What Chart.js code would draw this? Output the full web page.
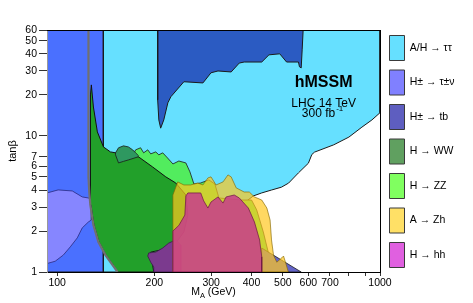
<!DOCTYPE html>
<html>
<head>
<meta charset="utf-8">
<script src="https://cdn.jsdelivr.net/npm/chart.js@4.4.0/dist/chart.umd.min.js"></script>
<style>
  html, body { margin: 0; padding: 0; background: #fff; }
</style>
</head>
<body>
<canvas id="my-chart" width="473" height="303"></canvas>
<script>
// axes
const xMin = 93, xMax = 1000;
const yMin = 1, yMax = 60;
const xTicks = [100, 200, 300, 400, 500, 600, 700, 800, 900, 1000];
const xTickLabels = ['100', '200', '300', '400', '500', '600', '700', '', '', '1000'];
const yTicks = [1, 2, 3, 4, 5, 6, 7, 10, 20, 30, 40, 50, 60];
const yTickLabels = ['1', '2', '3', '4', '5', '6', '7', '10', '20', '30', '40', '50', '60'];

// legend
const legendLabels = ['A/H → ττ', 'H± → τ±ν', 'H± → tb', 'H → WW', 'H → ZZ', 'A → Zh', 'H → hh'];
const legendColors = ['#66e0ff', '#8080ff', '#5e5ec0', '#60a060', '#80ff60', '#ffe066', '#e060e0'];

// regions, M_A (GeV) and tanb along each contour
const tautauMA   = [139, 139, 1000, 1000, 944, 879, 801, 719, 627, 615, 600, 559, 521, 495, 461, 430, 405, 385, 375, 370, 139];
const tautauTanb = [1, 60, 60, 14.8, 13.1, 11.6, 9.8, 8.6, 7.6, 7.3, 6.3, 5.35, 4.5, 4.2, 4.0, 3.81, 3.62, 3.3, 2.5, 1, 1];

const topMA   = [204.8, 204.8, 206.5, 209.2, 213.9, 220.2, 225, 246.9, 282.8, 299.6, 314.9, 345.9, 366.5, 379.6, 430.2, 452.9, 489.2, 513.6, 559, 563, 570, 574, 578];
const topTanb = [60, 18.4, 13.1, 11.4, 13.1, 17.5, 19.4, 25.0, 24.5, 29.1, 30.0, 29.5, 34.3, 34.9, 34.9, 39.4, 40.1, 34.9, 34.9, 32.2, 31.6, 42.9, 60];

const lepMA   = [93, 93, 139, 139];
const lepTanb = [1, 60, 60, 1];

const taunuMA   = [93, 100.7, 111.4, 119.6, 124.9, 127.6, 127.6, 124.9, 119.6, 115.4, 109.8, 104.4, 98.6, 93.8, 93];
const taunuTanb = [3.81, 4.01, 3.94, 3.56, 3.5, 3.38, 2.41, 2.33, 2.11, 1.78, 1.53, 1.33, 1.2, 1.16, 1.16];

const zzMA   = [175, 181.3, 185.3, 190.8, 194.9, 202, 206.5, 212.3, 219.8, 228.3, 238.2, 250.4, 257.8, 265.2, 278.4, 295, 308, 317, 372, 400, 415, 435, 453, 470, 200, 160, 165];
const zzTanb = [7.9, 8.18, 7.51, 7.9, 7.38, 7.63, 7.26, 7.51, 6.88, 6.22, 6.54, 6.33, 5.44, 4.43, 4.51, 4.75, 4.43, 3.5, 3.38, 3.38, 2.86, 1.97, 1.33, 1, 1, 3, 6];

const greenMA   = [127.6, 129.5, 133.2, 139.1, 146.2, 178.9, 197.6, 217, 233, 250.4, 254, 246.9, 233, 221.6, 209.2, 194.9, 199.1, 153.8, 148.8, 141.6, 134.7, 130, 127.2, 126.8, 126.8];
const greenTanb = [23.7, 16.3, 10.7, 8.3, 7.63, 7.0, 5.91, 5.0, 4.51, 3.68, 2.62, 1.97, 1.63, 1.53, 1.45, 1.4, 1, 1, 1.13, 1.33, 1.66, 2.21, 3.11, 6, 20];

const wwMA   = [151.6, 154.9, 160.5, 166.2, 171.3, 175, 178.9, 177.6, 166.2, 160.5, 154.9, 151.6];
const wwTanb = [7.51, 8.18, 8.45, 8.3, 7.9, 7.51, 7.13, 7.0, 6.66, 6.5, 6.33, 7.26];

const purpleMA   = [199.1, 199.1, 194.9, 190.8, 192.1, 202, 212.3, 221.6, 233, 241.6, 241.6];
const purpleTanb = [1, 1.09, 1.18, 1.31, 1.38, 1.4, 1.5, 1.63, 1.72, 1.58, 1];

const tbMA   = [430, 570, 430];
const tbTanb = [1.5, 1, 1];

const zhMA   = [228.3, 236.3, 246.9, 259.1, 272.6, 282.8, 293.0, 299.6, 310.6, 326.4, 338.1, 345.9, 358.6, 379.6, 393.7, 408.4, 430.2, 446.2, 456.6, 461.3, 467.9, 478.9, 496.2, 502.5, 509.6, 520, 228.3];
const zhTanb = [3.68, 4.59, 4.36, 4.36, 4.51, 4.36, 4.91, 5.0, 4.36, 4.59, 5.17, 5.0, 4.15, 3.87, 3.87, 3.56, 3.38, 2.95, 2.41, 1.72, 1.33, 1.18, 1.27, 1.31, 1.18, 1, 1];

const hhMA   = [228.3, 228.3, 238.2, 248.6, 250.4, 254, 278.4, 284.4, 293, 299.6, 314.9, 326.4, 333.6, 353.6, 366.5, 391, 408.4, 423.7, 430.2, 430.2];
const hhTanb = [1, 2.0, 2.2, 2.62, 3.62, 3.81, 3.81, 3.33, 2.95, 3.27, 3.56, 3.21, 3.56, 3.68, 3.5, 2.95, 2.33, 1.72, 1.29, 1];

const mhMA   = [125, 125, 125.8, 126.7, 129.5, 134.2, 141.1, 148.3, 153.8];
const mhTanb = [60, 5, 3.8, 3.11, 2.21, 1.66, 1.33, 1.13, 1];

const font = '"Liberation Sans", Arial, Helvetica, sans-serif';

function pts(xs, ys, close) {
  const p = xs.map((x, i) => ({x: x, y: ys[i]}));
  if (close) p.push(p[0]);
  return p;
}

function area(xs, ys, fillColor, lineColor, lineWidth) {
  return {
    data: pts(xs, ys, true),
    showLine: true,
    fill: 'shape',
    backgroundColor: fillColor,
    borderColor: lineColor,
    borderWidth: lineWidth,
    pointRadius: 0,
    pointHoverRadius: 0
  };
}

// bottom first
const layers = [
  area(tautauMA, tautauTanb, '#66e0ff', '#1b1b1b', 1),
  area(topMA, topTanb, '#2b5bc2', '#1b1b1b', 1),
  area(lepMA, lepTanb, '#4a70ff', '#1b1b1b', 1),
  area(taunuMA, taunuTanb, '#8686ff', '#2a2a80', 0.8),
  area(zzMA, zzTanb, '#52ec5e', '#1b1b1b', 0.8),
  area(greenMA, greenTanb, '#22a02a', '#111111', 1),
  area(wwMA, wwTanb, '#2e9860', '#1b1b1b', 0.8),
  area(purpleMA, purpleTanb, '#7b3a8e', '#3a1a4a', 0.8),
  area(tbMA, tbTanb, '#6464c8', '#1b1b1b', 0.8),
  area(zhMA, zhTanb, 'rgba(255,199,31,0.7)', 'rgba(130,100,0,0.8)', 0.8),
  area(hhMA, hhTanb, 'rgba(200,60,140,0.85)', 'rgba(110,20,70,0.9)', 0.8),
  {
    data: pts(mhMA, mhTanb, false),
    showLine: true,
    fill: false,
    borderColor: '#707070',
    borderWidth: 2.2,
    pointRadius: 0,
    pointHoverRadius: 0
  }
];
layers.forEach((d, i) => { d.order = layers.length - i; });

const textPlugin = {
  id: 'texts',
  afterDatasetsDraw(chart) {
    const {ctx, scales: {x, y}} = chart;
    ctx.save();
    ctx.fillStyle = '#000';
    ctx.textAlign = 'center';
    ctx.textBaseline = 'alphabetic';
    ctx.font = 'bold 16px ' + font;
    ctx.fillText('hMSSM', x.getPixelForValue(669), y.getPixelForValue(22.9));
    ctx.font = '12px ' + font;
    ctx.fillText('LHC 14 TeV', x.getPixelForValue(669), y.getPixelForValue(16.3));
    const bx = x.getPixelForValue(645), by = y.getPixelForValue(13.8);
    const w = ctx.measureText('300 fb').width;
    ctx.fillText('300 fb', bx, by);
    ctx.font = '8px ' + font;
    ctx.textAlign = 'left';
    ctx.fillText('-1', bx + w / 2 + 1, by - 6);
    ctx.restore();
  },
  afterDraw(chart) {
    const {ctx, chartArea} = chart;
    ctx.save();
    ctx.fillStyle = '#000';
    ctx.textBaseline = 'alphabetic';
    ctx.textAlign = 'left';
    ctx.font = '10.5px ' + font;
    const wM = ctx.measureText('M').width;
    const wRest = ctx.measureText(' (GeV)').width;
    ctx.font = '7.5px ' + font;
    const wA = ctx.measureText('A').width;
    const cx = (chartArea.left + chartArea.right) / 2;
    let x0 = cx - (wM + wA + wRest) / 2;
    const yb = 295;
    ctx.font = '10.5px ' + font;
    ctx.fillText('M', x0, yb);
    ctx.font = '7.5px ' + font;
    ctx.fillText('A', x0 + wM, yb + 2.5);
    ctx.font = '10.5px ' + font;
    ctx.fillText(' (GeV)', x0 + wM + wA, yb);
    ctx.restore();
  }
};

const ctx = document.getElementById('my-chart').getContext('2d');
const chart = new Chart(ctx, {
  type: 'scatter',
  data: { datasets: layers },
  options: {
    responsive: false,
    animation: false,
    events: [],
    layout: { padding: { top: 0, right: 17, bottom: 0, left: 0 } },
    scales: {
      x: {
        type: 'logarithmic',
        min: xMin, max: xMax,
        afterBuildTicks: s => { s.ticks = xTicks.map(v => ({value: v})); },
        afterFit: s => { s.height = 31; },
        ticks: {
          autoSkip: false, maxRotation: 0, minRotation: 0, padding: 1,
          color: '#000', font: { size: 10.5, family: font },
          callback: (v, i) => xTickLabels[i]
        },
        grid: { drawOnChartArea: false, drawTicks: true, tickLength: 4, color: '#333' },
        border: { display: true, color: '#000', width: 1, z: 1 }
      },
      y: {
        type: 'logarithmic',
        min: yMin, max: yMax,
        afterBuildTicks: s => { s.ticks = yTicks.map(v => ({value: v})); },
        afterFit: s => { s.width = 47; },
        ticks: {
          autoSkip: false, padding: 2,
          color: '#000', font: { size: 10.5, family: font },
          callback: (v, i) => yTickLabels[i]
        },
        grid: { drawOnChartArea: false, drawTicks: true, tickLength: 8, color: '#333' },
        border: { display: true, color: '#999', width: 1, z: 1 },
        title: { display: true, text: 'tanβ', color: '#000', font: { size: 11, family: font }, padding: { top: 6, bottom: 0 } }
      },
      x2: {
        type: 'logarithmic', position: 'top', min: xMin, max: xMax,
        ticks: { display: false }, grid: { display: false },
        border: { display: true, color: '#000', width: 1, z: 1 },
        afterFit: s => { s.height = 30; }
      },
      y2: {
        type: 'logarithmic', position: 'right', min: yMin, max: yMax,
        ticks: { display: false }, grid: { display: false },
        border: { display: true, color: '#000', width: 1, z: 1 },
        afterFit: s => { s.width = 0; }
      }
    },
    plugins: {
      tooltip: { enabled: false },
      legend: {
        position: 'right',
        align: 'center',
        labels: {
          boxWidth: 15, boxHeight: 25, padding: 9.5,
          color: '#000', font: { size: 10.5, family: font },
          generateLabels: () => legendLabels.map((t, i) => ({
            text: t, fillStyle: legendColors[i], strokeStyle: '#3a3a3a',
            lineWidth: 1, hidden: false, fontColor: '#000'
          }))
        }
      }
    }
  },
  plugins: [textPlugin]
});
</script>
</body>
</html>
